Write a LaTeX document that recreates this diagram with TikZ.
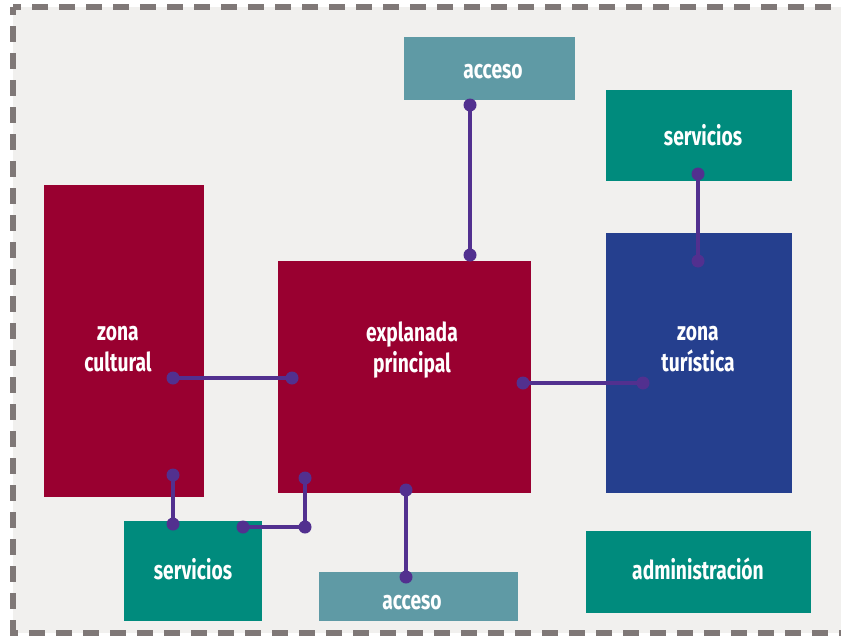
\documentclass[tikz,border=0pt]{standalone}
\usepackage{fontspec}
\newfontfamily\lblfont{Fira Sans}[FakeStretch=0.74]
\definecolor{bgc}{HTML}{F1F0EE}
\definecolor{dashc}{HTML}{7F7877}
\definecolor{crimson}{HTML}{990030}
\definecolor{tealc}{HTML}{008B7D}
\definecolor{bluec}{HTML}{253F8E}
\definecolor{lteal}{HTML}{5F9AA5}
\definecolor{purp}{HTML}{52308F}
\begin{document}
\begin{tikzpicture}[x=1pt,y=-1pt,
  zone/.style={draw=none,rectangle,anchor=north west,inner sep=0pt,outer sep=0pt},
  lbl/.style={anchor=base,text=white,inner sep=0pt,font=\lblfont\bfseries\fontsize{26}{31}\selectfont},
  conn/.style={draw=purp,line width=4pt},
  dot/.style={fill=purp}
]
\useasboundingbox (0,0) rectangle (841,637);
% background
\fill[bgc] (13,7) rectangle (860,633);
\draw[dashc,line width=6pt,dash pattern=on 16pt off 11pt,dash phase=8pt] (13,7) -- (860,7);
\draw[dashc,line width=6pt,dash pattern=on 16pt off 11pt,dash phase=8pt] (13,7) -- (13,633);
\draw[dashc,line width=6pt,dash pattern=on 16pt off 11pt,dash phase=8pt] (10,633) -- (860,633);
% zones
\node[zone,fill=crimson,minimum width=160pt,minimum height=312pt] (zc) at (44,185) {};
\node[zone,fill=crimson,minimum width=253pt,minimum height=232pt] (ep) at (278,261) {};
\node[zone,fill=bluec,minimum width=186pt,minimum height=260pt] (zt) at (606,233) {};
\node[zone,fill=tealc,minimum width=186pt,minimum height=91pt] (st) at (606,90) {};
\node[zone,fill=lteal,minimum width=171pt,minimum height=63pt] (at) at (404,37) {};
\node[zone,fill=tealc,minimum width=138pt,minimum height=100pt] (sb) at (124,521) {};
\node[zone,fill=lteal,minimum width=199pt,minimum height=49pt] (ab) at (319,572) {};
\node[zone,fill=tealc,minimum width=225pt,minimum height=82pt] (ad) at (586,531) {};
% labels
\node[lbl] (zc1) at (118,340) {zona};
\node[lbl] (zc2) at (118,371) {cultural};
\node[lbl] (ep1) at (412,341) {explanada};
\node[lbl] (ep2) at (412,372) {principal};
\node[lbl] (zt1) at (698,340) {zona};
\node[lbl] (zt2) at (698,371) {turística};
\node[lbl] (stl) at (703,145) {servicios};
\node[lbl] (atl) at (493,78) {acceso};
\node[lbl] (sbl) at (193,579) {servicios};
\node[lbl] (abl) at (412,609) {acceso};
\node[lbl] (adl) at (698,579) {administración};
% connector points
\coordinate (p1a) at (470,105);
\coordinate (p1b) at (470,255);
\coordinate (p2a) at (698,174);
\coordinate (p2b) at (698,261);
\coordinate (p3a) at (173,378);
\coordinate (p3b) at (292,378);
\coordinate (p4a) at (523,383);
\coordinate (p4b) at (643,383);
\coordinate (p5a) at (173,475);
\coordinate (p5b) at (173,524);
\coordinate (p6a) at (243,527);
\coordinate (p6b) at (305,527);
\coordinate (p6c) at (305,478);
\coordinate (p7a) at (406,490);
\coordinate (p7b) at (406,577);
% connectors
\draw[conn] (p1a) -- (p1b);
\draw[conn] (p2a) -- (p2b);
\draw[conn] (p3a) -- (p3b);
\draw[conn] (p4a) -- (p4b);
\draw[conn] (p5a) -- (p5b);
\draw[conn] (p6a) -- (p6b) -- (p6c);
\draw[conn] (p7a) -- (p7b);
\foreach \p in {p1a,p1b,p2a,p2b,p3a,p3b,p4a,p4b,p5a,p5b,p6a,p6b,p6c,p7a,p7b}
  \fill[dot] (\p) circle (6.5pt);
\end{tikzpicture}
\end{document}
